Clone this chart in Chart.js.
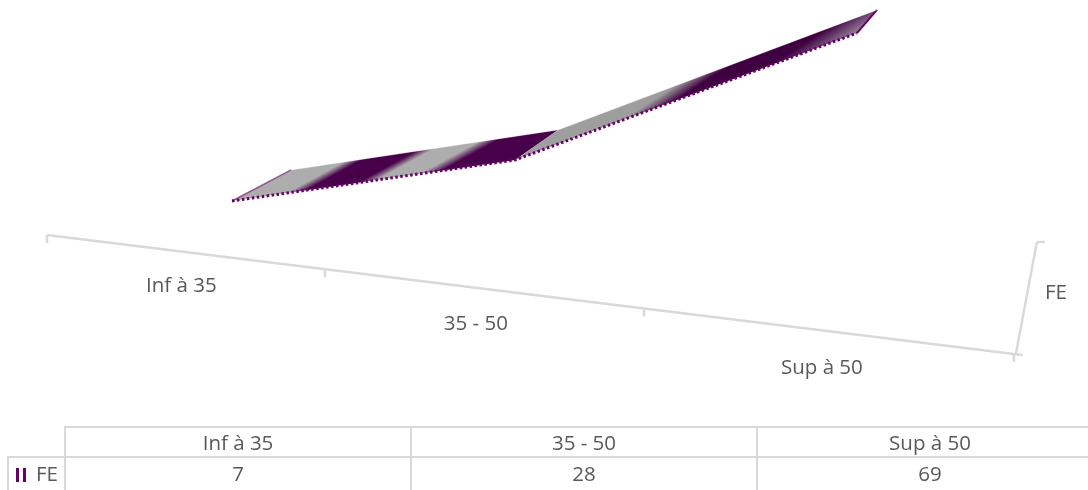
<!DOCTYPE html>
<html lang="fr">
<head>
<meta charset="utf-8">
<title>FE</title>
<script src="https://cdn.jsdelivr.net/npm/chart.js@4/dist/chart.umd.min.js"></script>
<style>
  html, body { margin: 0; padding: 0; background: #fff; width: 1088px; height: 490px; overflow: hidden; }
  #cadre { position: relative; width: 1088px; height: 490px; overflow: hidden; }
  #grafico { position: absolute; left: 0; top: 0; }
  #tableau { position: absolute; left: 7px; top: 426px; width: 1096px; border-collapse: collapse; table-layout: fixed;
    font: 20.5px "Open Sans", sans-serif; color: #595959; }
  #tableau td { border: 2px solid #d9d9d9; text-align: center; padding: 0; height: 25px; width: 344px; }
  #tableau tr:last-child td { height: 30px; padding-bottom: 5px; border-bottom: 0; }
  #tableau td.vide { border-top: 0; border-left: 0; width: 56px; }
  #tableau td.nom { width: 56px; text-align: left; white-space: nowrap; }
  .cle { display: inline-block; width: 4px; height: 14px; margin: 0 10px 0 7px; vertical-align: -1px;
    border-left: 3px solid #660066; border-right: 3px solid #660066; }
</style>
</head>
<body>
<div id="cadre">
  <canvas id="grafico" width="1088" height="490"></canvas>
  <table id="tableau"></table>
</div>
<script>
const categories = ['Inf à 35', '35 - 50', 'Sup à 50'];
const nomSerie = 'FE';
const serieFE = [7, 28, 69];

const violet = '#660066';
const gris = '#d9d9d9';
const texte = '#595959';
const police = '20.5px "Open Sans", sans-serif';

// Perspective du ruban 3D : (u, valeur) -> pixel, calée sur l'image
const bordAvant = { ax: 238.6, bx: 232, c: -0.0863, ay: 12.5, by: 223.4, gv: -3.205 };
const bordArriere = { ax: 221.5, bx: 291, c: -0.0815, ay: 12.8, by: 191.1, gv: -3.02 };
const axeBas = { ax: 257.1, bx: 47, c: -0.0643, ay: 16.9, by: 235, gv: 0 };

function projeter(u, v, h) {
  const d = 1 + h.c * u;
  return { x: (h.ax * u + h.bx) / d, y: (h.ay * u + h.by + h.gv * v) / d };
}

// Bandes diagonales du remplissage
function degrade(ctx, nx, ny, debut, fin, arrets) {
  const g = ctx.createLinearGradient(nx * debut, ny * debut, nx * fin, ny * fin);
  arrets.forEach(a => g.addColorStop((a[0] - debut) / (fin - debut), a[1]));
  return g;
}

function bandes(arrets, c1, c2) {
  return arrets.map(a => [a[0], a[1] ? c1 : c2]);
}

const plugin3D = {
  id: 'plugin3D',
  beforeDatasetsDraw(chart) {
    const ctx = chart.ctx;
    const xs = chart.scales.x;
    const ys = chart.scales.y;
    const pas = xs.getPixelForValue(1) - xs.getPixelForValue(0);
    const positionner = (indice, h) => {
      chart.getDatasetMeta(indice).data.forEach((pt, i) => {
        const u = (xs.getPixelForValue(i) - xs.getPixelForValue(0)) / pas;
        const v = ys.getValueForPixel(ys.getPixelForValue(serieFE[i]));
        const p = projeter(u, v, h);
        pt.x = p.x;
        pt.y = p.y;
      });
    };
    positionner(0, bordAvant);
    positionner(1, bordArriere);

    const av = chart.getDatasetMeta(0).data;
    const ar = chart.getDatasetMeta(1).data;
    const remplir = (i, style) => {
      ctx.beginPath();
      ctx.moveTo(av[i].x, av[i].y);
      ctx.lineTo(av[i + 1].x, av[i + 1].y);
      ctx.lineTo(ar[i + 1].x, ar[i + 1].y);
      ctx.lineTo(ar[i].x, ar[i].y);
      ctx.closePath();
      ctx.fillStyle = style;
      ctx.fill();
    };

    const arrets1 = [[307, 0], [314, 1], [332, 1], [339, 0], [354, 0], [362, 1], [400, 1]];
    const arrets2 = [[441, 0], [454, 1], [476, 1]];
    const g1 = bandes(arrets1, '#48004a', '#adadad');
    const g2 = bandes(arrets2, '#3e0040', '#9e9e9e');
    g2.push([496, '#97809a']);
    remplir(0, degrade(ctx, 0.48, 0.877, 300, 400, g1));
    remplir(1, degrade(ctx, 0.547, 0.837, 430, 500, g2));

    // Extrémités du ruban
    const extremite = (i, couleur, largeur) => {
      ctx.strokeStyle = couleur;
      ctx.lineWidth = largeur;
      ctx.beginPath();
      ctx.moveTo(av[i].x, av[i].y);
      ctx.lineTo(ar[i].x, ar[i].y);
      ctx.stroke();
    };
    extremite(0, 'rgba(102,0,102,0.6)', 1.5);
    extremite(av.length - 1, violet, 2);
  },
  afterDraw(chart) {
    const ctx = chart.ctx;
    ctx.save();
    ctx.strokeStyle = gris;
    ctx.lineWidth = 2.5;
    const trait = (x1, y1, x2, y2) => {
      ctx.beginPath();
      ctx.moveTo(x1, y1);
      ctx.lineTo(x2, y2);
      ctx.stroke();
    };
    // Axe des catégories et graduations
    const n = categories.length;
    const debut = projeter(0, 0, axeBas);
    const fin = projeter(n, 0, axeBas);
    trait(debut.x, debut.y, fin.x, fin.y);
    for (let i = 0; i <= n; i++) {
      const p = projeter(i, 0, axeBas);
      trait(p.x, p.y, p.x, p.y + 8);
    }
    // Axe de profondeur
    trait(fin.x + 2, fin.y, fin.x + 23, fin.y - 112);
    trait(fin.x + 23, fin.y - 112, fin.x + 31, fin.y - 112);
    trait(fin.x, fin.y, fin.x + 9, fin.y + 1);

    ctx.font = police;
    ctx.fillStyle = texte;
    ctx.textAlign = 'center';
    ctx.textBaseline = 'middle';
    categories.forEach((c, i) => {
      const p = projeter(i + 0.5, 0, axeBas);
      ctx.fillText(c, p.x - (i === 1 ? 3 : 0), p.y + 35 + 1.25 * i);
    });
    ctx.fillText(nomSerie, fin.x + 42, fin.y - 61);
    ctx.restore();
  }
};

const config = {
  type: 'line',
  data: {
    labels: categories,
    datasets: [
      { label: nomSerie, data: serieFE, borderColor: violet, borderWidth: 3, borderDash: [2.5, 2.5],
        pointRadius: 0, tension: 0, fill: false, clip: false },
      { label: nomSerie + ' (arrière)', data: serieFE, borderColor: 'rgba(255,255,255,0.35)', borderWidth: 1,
        pointRadius: 0, tension: 0, fill: false, clip: false }
    ]
  },
  options: {
    responsive: false,
    maintainAspectRatio: false,
    animation: false,
    scales: {
      x: { display: false },
      y: { display: false, min: 0, max: 80 }
    },
    plugins: { legend: { display: false }, tooltip: { enabled: false } }
  },
  plugins: [plugin3D]
};

const grafico = new Chart(document.getElementById('grafico').getContext('2d'), config);

// Table de données sous le graphique
const tableau = document.getElementById('tableau');
const ligne1 = tableau.insertRow();
ligne1.insertCell().className = 'vide';
categories.forEach(c => { ligne1.insertCell().textContent = c; });
const ligne2 = tableau.insertRow();
const nom = ligne2.insertCell();
nom.className = 'nom';
const cle = document.createElement('span');
cle.className = 'cle';
nom.appendChild(cle);
nom.appendChild(document.createTextNode(nomSerie));
serieFE.forEach(v => { ligne2.insertCell().textContent = v; });
</script>
</body>
</html>
